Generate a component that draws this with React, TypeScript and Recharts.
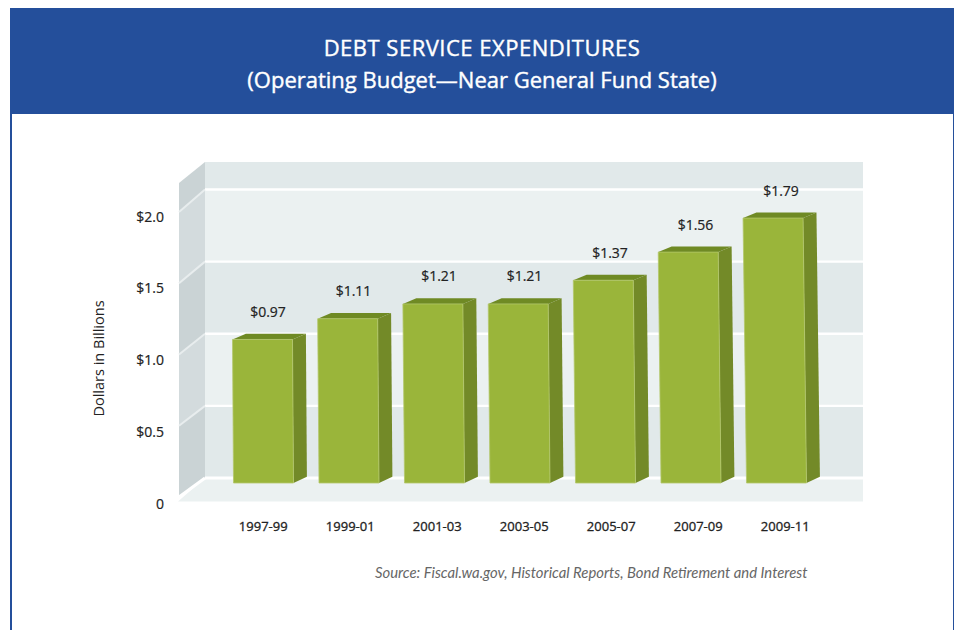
import React from 'react';
import { ComposedChart, Bar, Line, XAxis, YAxis, LabelList } from 'recharts';

const biennia = ['1997-99', '1999-01', '2001-03', '2003-05', '2005-07', '2007-09', '2009-11'];
const debtService = [0.97, 1.11, 1.21, 1.21, 1.37, 1.56, 1.79];
const axisTicks = [0, 0.5, 1, 1.5, 2];

const chartData = biennia.map((period, i) => ({ period, value: debtService[i] }));

const FONT = '"Open Sans", "Noto Sans", sans-serif';
const BLUE = '#244f9b';
const INK = '#222';

// wall geometry of the fake 3D box
const WALL_FRONT_X = 179;
const WALL_BACK_X = 205;
const WALL_RIGHT_X = 863;
const frontY = (v: number) => 497 - 142.5 * v;
const backY = (v: number) => 478 - 144.25 * v;
const WALL_TOP_BACK = 162;
const WALL_TOP_FRONT = 183;

const Backdrop = () => {
  const bands = axisTicks.map((v, i) => {
    const next = i < axisTicks.length - 1;
    const topBack = next ? backY(axisTicks[i + 1]) : WALL_TOP_BACK;
    const topFront = next ? frontY(axisTicks[i + 1]) : WALL_TOP_FRONT;
    const dark = i % 2 === 0;
    return (
      <g key={v}>
        <rect
          x={WALL_BACK_X}
          y={topBack}
          width={WALL_RIGHT_X - WALL_BACK_X}
          height={backY(v) - topBack}
          fill={dark ? '#e1e9ea' : '#ebf1f1'}
        />
        <polygon
          points={`${WALL_FRONT_X},${frontY(v)} ${WALL_BACK_X},${backY(v)} ${WALL_BACK_X},${topBack} ${WALL_FRONT_X},${topFront}`}
          fill={dark ? '#cad3d5' : '#d3dbdd'}
        />
      </g>
    );
  });

  return (
    <g>
      {bands}
      <polygon
        points={`178,501.5 ${WALL_BACK_X},${backY(0)} ${WALL_RIGHT_X},${backY(0)} ${WALL_RIGHT_X},501.5`}
        fill="#ebf1f1"
      />
      {axisTicks.map((v) => (
        <g key={v} fill="none" stroke="#ffffff" strokeWidth={v === 0 ? 3 : 2.4}>
          <line x1={WALL_BACK_X} y1={backY(v)} x2={WALL_RIGHT_X} y2={backY(v)} />
          <line
            x1={WALL_FRONT_X}
            y1={frontY(v)}
            x2={WALL_BACK_X}
            y2={backY(v)}
            stroke={v === 0 ? '#ffffff' : '#e8edee'}
            strokeWidth={v === 0 ? 3 : 2}
          />
        </g>
      ))}
      <text
        transform="translate(98,358.5) rotate(-90)"
        textAnchor="middle"
        dominantBaseline="central"
        fontFamily={FONT}
        fontSize={14.5}
        fill={INK}
      >
        Dollars in Billions
      </text>
    </g>
  );
};

// one extruded bar: front face leans a little, side and top are offset to the back
const Bar3D = (props: any) => {
  const { x, y, width, height } = props;
  const lean = height * (0.007 + (0.006 * (x - 233)) / 513);
  const dx = 13.4;
  const topDy = 5.6;
  const bottomDy = 6.3;
  const left = x - lean;
  const right = x + width - lean;
  const bottom = y + height;
  return (
    <g>
      <polygon
        points={`${left},${y} ${left + dx},${y - topDy} ${right + dx},${y - topDy} ${right},${y}`}
        fill="#6f8a24"
      />
      <polygon
        points={`${right},${y} ${right + dx},${y - topDy} ${x + width + dx},${bottom - bottomDy} ${x + width},${bottom}`}
        fill="#738a28"
      />
      <polygon
        points={`${left},${y} ${right},${y} ${x + width},${bottom} ${x},${bottom}`}
        fill="#9ab53a"
        stroke="#b4c86c"
        strokeWidth={0.8}
      />
    </g>
  );
};

const ValueLabel = (props: any) => {
  const { x, y, width, value } = props;
  return (
    <text
      x={x + width / 2 + 4.5}
      y={y - 28}
      textAnchor="middle"
      dominantBaseline="central"
      fontFamily={FONT}
      fontSize={14}
      fill={INK}
      stroke={INK}
      strokeWidth={0.2}
    >
      ${value.toFixed(2)}
    </text>
  );
};

// category labels run on a slightly wider pitch than the bars
const PeriodTick = (props: any) => {
  const { x, y, index, payload } = props;
  return (
    <text
      x={x + index * 1.5}
      y={y}
      textAnchor="middle"
      dominantBaseline="central"
      fontFamily={FONT}
      fontSize={13}
      fill={INK}
      stroke={INK}
      strokeWidth={0.3}
    >
      {payload.value}
    </text>
  );
};

const AmountTick = (props: any) => {
  const { y, payload } = props;
  return (
    <text
      x={164}
      y={y}
      textAnchor="end"
      dominantBaseline="central"
      fontFamily={FONT}
      fontSize={14}
      fill={INK}
      stroke={INK}
      strokeWidth={0.2}
    >
      {payload.value === 0 ? '0' : `$${payload.value.toFixed(1)}`}
    </text>
  );
};

const App = () => {
  return (
    <div style={{ position: 'relative', width: 954, height: 630, background: '#fff', overflow: 'hidden' }}>
      <style>{'body { margin: 0; }'}</style>
      <div style={{ position: 'absolute', left: 10, top: 114, width: 2, height: 516, background: BLUE }} />
      <div style={{ position: 'absolute', left: 953, top: 114, width: 1, height: 516, background: BLUE }} />
      <div
        style={{
          position: 'absolute',
          left: 10,
          top: 8,
          width: 944,
          height: 106,
          background: BLUE,
          color: '#fff',
          fontFamily: FONT,
          fontSize: 22,
          lineHeight: '32px',
          textAlign: 'center',
          paddingTop: 23,
          boxSizing: 'border-box',
          WebkitTextStroke: '0.4px #fff',
        }}
      >
        <div style={{ letterSpacing: 0.5 }}>DEBT SERVICE EXPENDITURES</div>
        <div>(Operating Budget—Near General Fund State)</div>
      </div>

      <div style={{ position: 'absolute', left: 0, top: 0 }}>
        <ComposedChart
          width={954}
          height={630}
          data={chartData}
          margin={{ top: 150, right: 135, bottom: 97, left: 0 }}
          barSize={60}
        >
          <Backdrop />
          <XAxis
            dataKey="period"
            axisLine={false}
            tickLine={false}
            tickSize={0}
            tickMargin={22.5}
            height={30}
            interval={0}
            tick={PeriodTick}
          />
          <YAxis
            yAxisId="ticks"
            width={220.5}
            type="number"
            domain={[0, 2.46]}
            ticks={axisTicks}
            axisLine={false}
            tickLine={false}
            tickSize={0}
            interval={0}
            tick={AmountTick}
          />
          <YAxis yAxisId="bars" hide type="number" domain={[-0.135135, 2.25]} />
          {/* keeps the labelled axis alive, nothing visible */}
          <Line
            yAxisId="ticks"
            dataKey="value"
            stroke="none"
            dot={false}
            activeDot={false}
            legendType="none"
            isAnimationActive={false}
          />
          <Bar yAxisId="bars" dataKey="value" shape={Bar3D} isAnimationActive={false}>
            <LabelList dataKey="value" content={ValueLabel} />
          </Bar>
        </ComposedChart>
      </div>

      <div
        style={{
          position: 'absolute',
          left: 375,
          top: 563,
          fontFamily: 'Lato, sans-serif',
          fontStyle: 'italic',
          fontSize: 14.85,
          lineHeight: '18px',
          color: '#666',
          whiteSpace: 'nowrap',
        }}
      >
        Source: Fiscal.wa.gov, Historical Reports, Bond Retirement and Interest
      </div>
    </div>
  );
};

export default App;
